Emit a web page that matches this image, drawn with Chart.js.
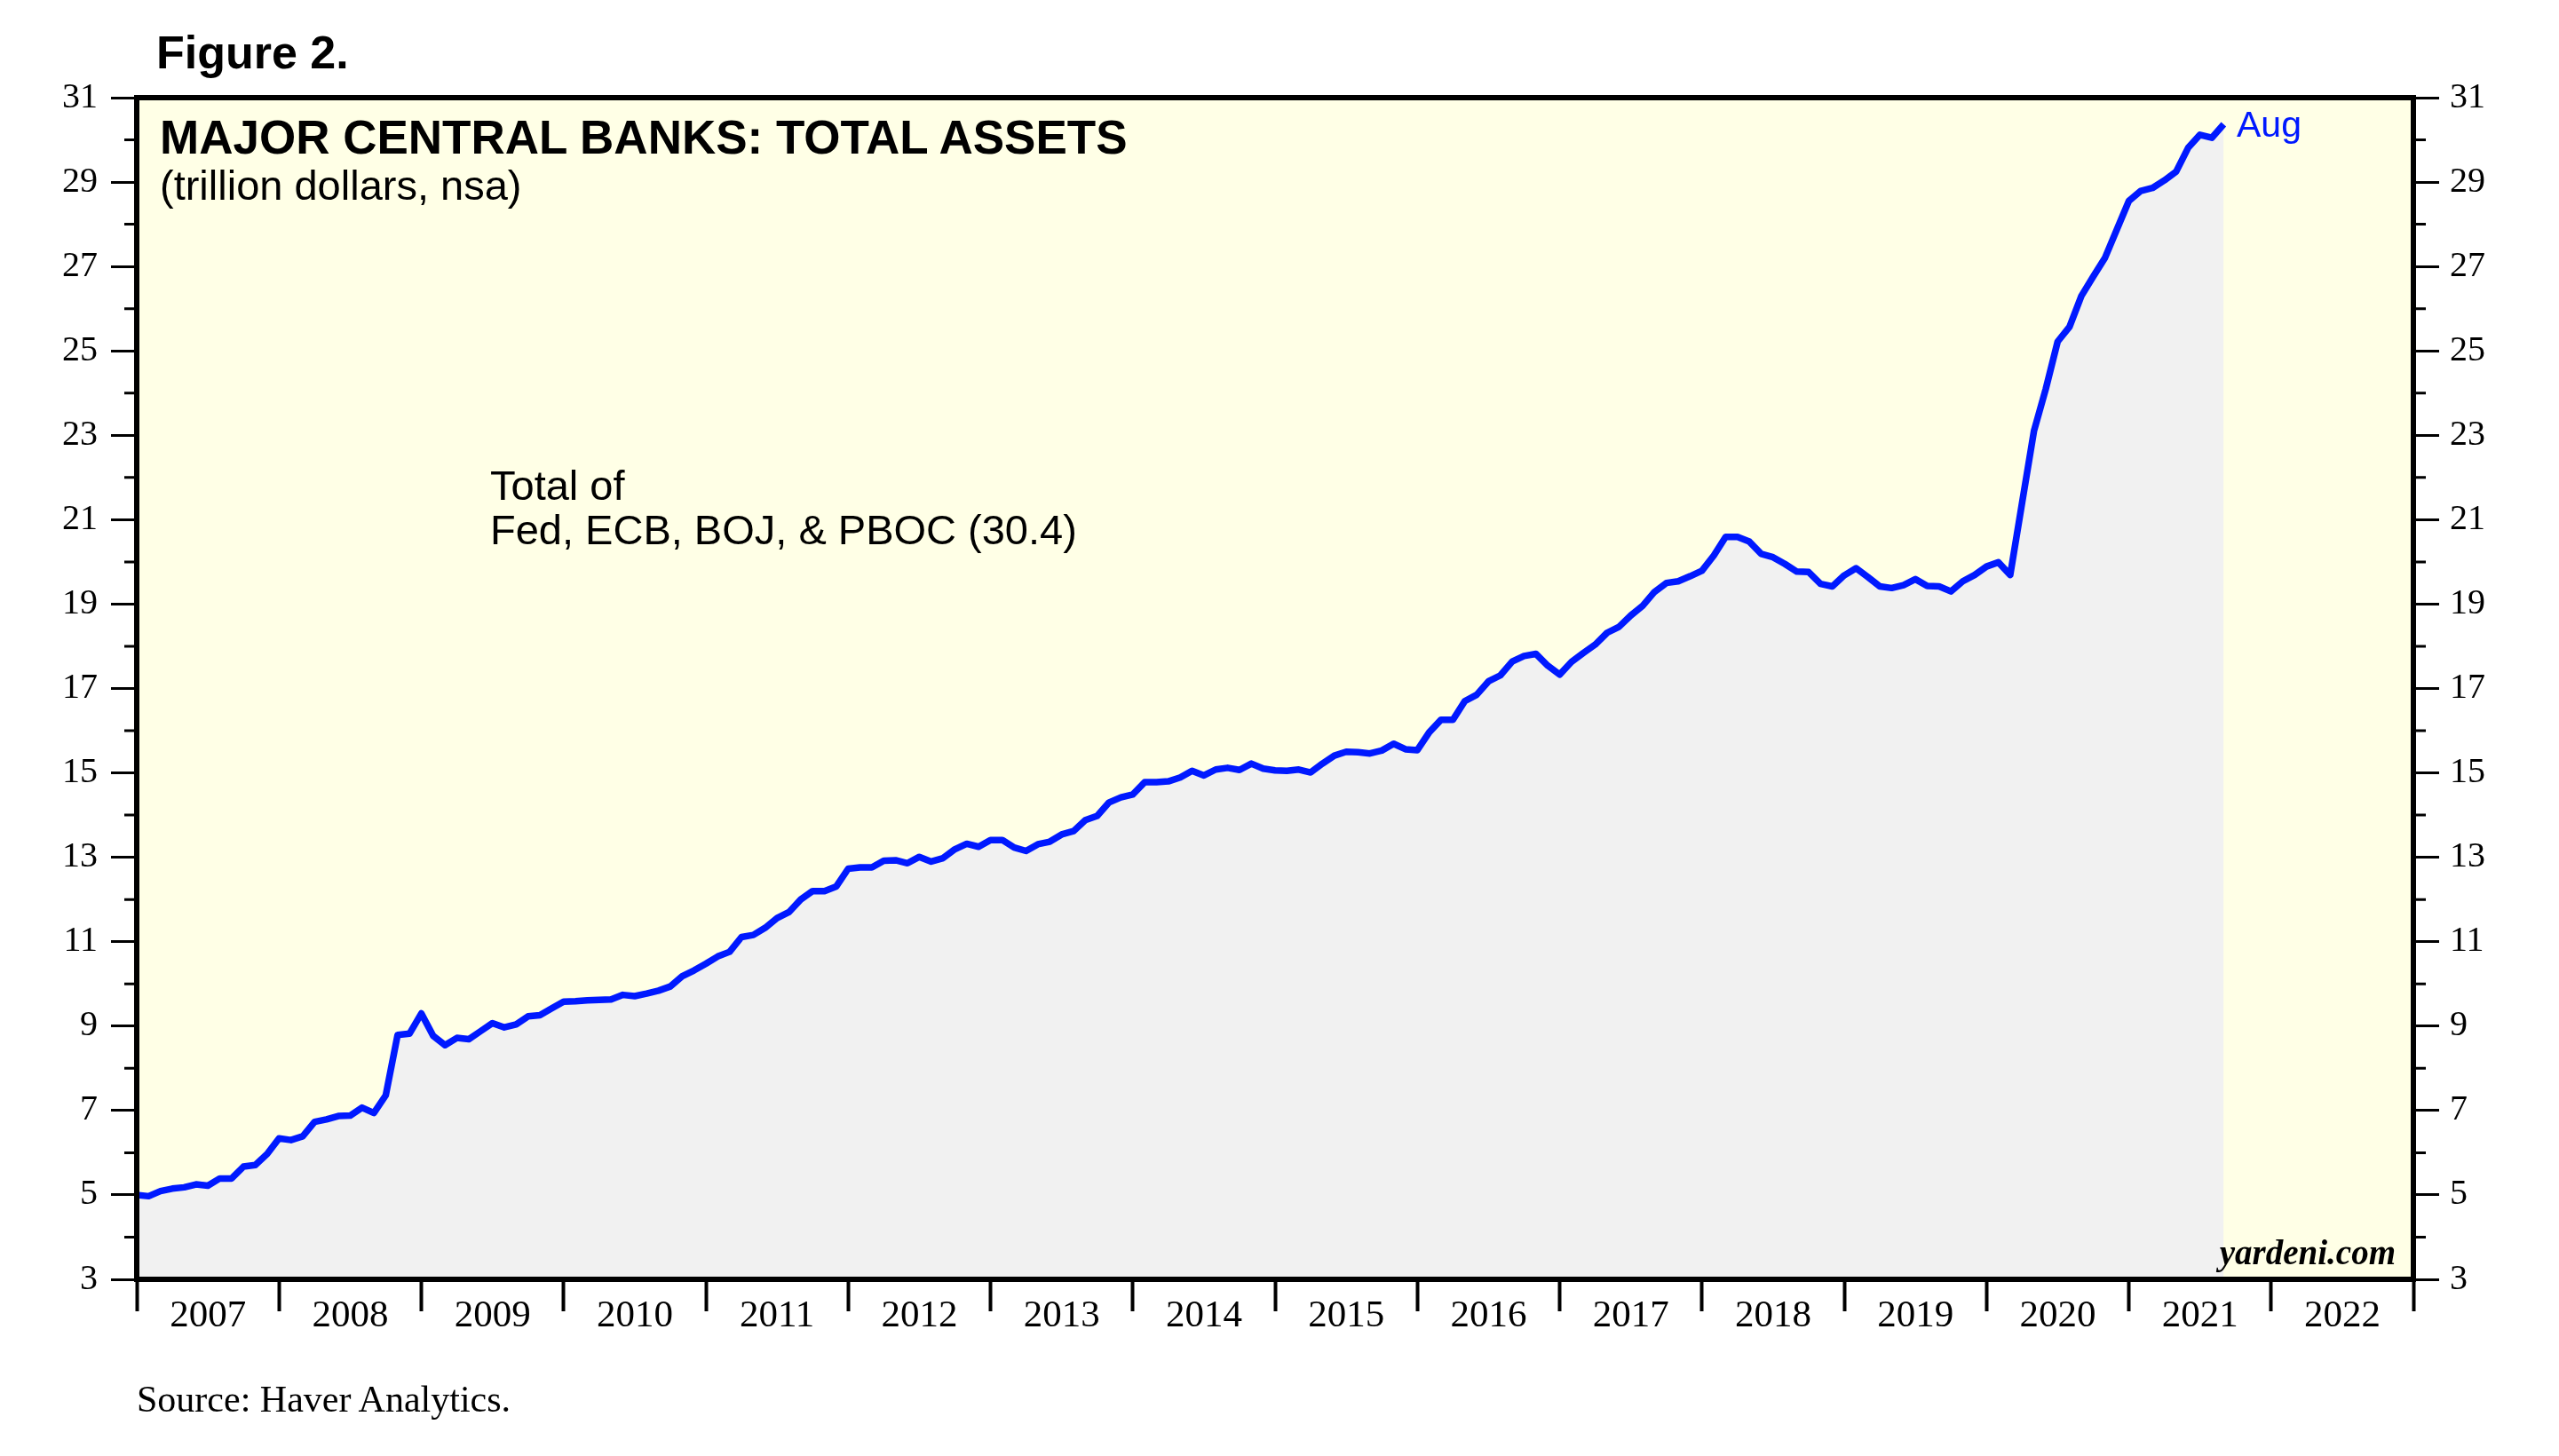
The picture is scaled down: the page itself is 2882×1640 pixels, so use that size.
<!DOCTYPE html>
<html>
<head>
<meta charset="utf-8">
<title>Major Central Banks: Total Assets</title>
<script src="https://cdn.jsdelivr.net/npm/chart.js@4.4.1/dist/chart.umd.min.js"></script>
<style>
  html, body { margin: 0; padding: 0; background: #fff; }
  #wrap { position: relative; width: 2882px; height: 1640px; overflow: hidden; }
  #chart { position: absolute; left: 0; top: 0; }
  .txt { position: absolute; white-space: nowrap; line-height: 1; color: #000; }
  .sans { font-family: "Liberation Sans", Arial, Helvetica, sans-serif; }
  .serif { font-family: "Liberation Serif", "Times New Roman", serif; }
</style>
</head>
<body>
<div id="wrap">
  <canvas id="chart" width="2882" height="1640"></canvas>
  <div class="txt sans" style="left:176px; top:33px; font-size:52px; font-weight:bold;">Figure 2.</div>
  <div class="txt sans" style="left:180px; top:128px; font-size:53px; font-weight:bold;">MAJOR CENTRAL BANKS: TOTAL ASSETS</div>
  <div class="txt sans" style="left:180px; top:185px; font-size:47px;">(trillion dollars, nsa)</div>
  <div class="txt sans" style="left:552px; top:523px; font-size:47px;">Total of</div>
  <div class="txt sans" style="left:552px; top:573px; font-size:47px;">Fed, ECB, BOJ, &amp; PBOC (30.4)</div>
  <div class="txt sans" style="left:2519px; top:120px; font-size:41px; color:#0019ff;">Aug</div>
  <div class="txt serif" style="right:184px; top:1391px; font-size:39px; font-weight:bold; font-style:italic;">yardeni.com</div>
  <div class="txt serif" style="left:154px; top:1555px; font-size:42px;">Source: Haver Analytics.</div>
</div>
<script>
// year labels on the x axis (centred in each year)
const yearLabels = ['2007', '2008', '2009', '2010', '2011', '2012', '2013', '2014',
                    '2015', '2016', '2017', '2018', '2019', '2020', '2021', '2022'];

// y axis range, labelled every 2
const yMin = 3;
const yMax = 31;

// monthly series, first value is Dec 2006 (plotted at the start of 2007)
const firstMonth = { year: 2006, month: 12 };

// Fed + ECB + BOJ + PBOC total assets, trillion dollars
const totalAssets = [
  5.00,
  4.97, 5.09, 5.15, 5.18, 5.25, 5.22, 5.39, 5.39, 5.67, 5.71, 5.97, 6.34,         // 2007
  6.30, 6.39, 6.73, 6.79, 6.87, 6.88, 7.07, 6.94, 7.36, 8.79, 8.82, 9.30,         // 2008
  8.77, 8.55, 8.72, 8.69, 8.88, 9.07, 8.97, 9.04, 9.23, 9.26, 9.42, 9.58,         // 2009
  9.59, 9.61, 9.62, 9.63, 9.74, 9.71, 9.77, 9.84, 9.94, 10.18, 10.32, 10.48,      // 2010
  10.65, 10.76, 11.11, 11.16, 11.33, 11.56, 11.70, 12.00, 12.20, 12.20, 12.31, 12.73, // 2011
  12.76, 12.76, 12.92, 12.93, 12.86, 13.01, 12.90, 12.98, 13.19, 13.32, 13.25, 13.41, // 2012
  13.41, 13.23, 13.15, 13.31, 13.37, 13.54, 13.62, 13.88, 13.98, 14.30, 14.42, 14.49, // 2013
  14.78, 14.78, 14.80, 14.89, 15.05, 14.94, 15.08, 15.12, 15.07, 15.22, 15.10, 15.06, // 2014
  15.05, 15.08, 15.01, 15.22, 15.41, 15.50, 15.49, 15.46, 15.53, 15.69, 15.56, 15.54, // 2015
  15.96, 16.26, 16.26, 16.70, 16.85, 17.17, 17.31, 17.64, 17.77, 17.82, 17.54, 17.33, // 2016
  17.63, 17.84, 18.04, 18.32, 18.46, 18.73, 18.96, 19.29, 19.50, 19.54, 19.66, 19.79, // 2017
  20.15, 20.59, 20.59, 20.48, 20.19, 20.11, 19.95, 19.77, 19.76, 19.48, 19.42, 19.68, // 2018
  19.85, 19.64, 19.42, 19.38, 19.45, 19.59, 19.43, 19.42, 19.30, 19.54, 19.69, 19.89, // 2019
  19.99, 19.69, 21.40, 23.10, 24.10, 25.22, 25.57, 26.30, 26.76, 27.21, 27.88, 28.55, // 2020
  28.79, 28.86, 29.04, 29.25, 29.81, 30.12, 30.05, 30.37                              // 2021
];

const firstYear = Number(yearLabels[0]);
const lastYear = Number(yearLabels[yearLabels.length - 1]) + 1;

const points = totalAssets.map((v, i) => ({
  x: firstMonth.year + (firstMonth.month + i) / 12,
  y: v
}));

const serifFont = '"Liberation Serif", "Times New Roman", serif';

// yellow plot background, black frame and the short minor ticks
const plotFrame = {
  id: 'plotFrame',
  beforeDraw(chart) {
    const { ctx, chartArea: a } = chart;
    ctx.save();
    ctx.fillStyle = '#ffffe6';
    ctx.fillRect(a.left, a.top, a.right - a.left, a.bottom - a.top);
    ctx.restore();
  },
  afterDraw(chart) {
    const { ctx, chartArea: a } = chart;
    const yl = chart.scales.y;
    ctx.save();
    ctx.strokeStyle = '#000';
    ctx.lineWidth = 3;
    ctx.beginPath();
    for (let v = yMin + 1; v < yMax; v += 2) {
      const py = yl.getPixelForValue(v);
      ctx.moveTo(a.left - 14, py);
      ctx.lineTo(a.left, py);
      ctx.moveTo(a.right, py);
      ctx.lineTo(a.right + 14, py);
    }
    ctx.stroke();
    ctx.lineWidth = 6;
    ctx.strokeRect(a.left, a.top, a.right - a.left, a.bottom - a.top);
    ctx.restore();
  }
};

function yAxis(position, width, padding) {
  return {
    type: 'linear',
    position: position,
    min: yMin,
    max: yMax,
    afterFit(scale) { scale.width = width; },
    border: { display: false },
    grid: {
      drawOnChartArea: false,
      tickLength: 29,
      tickWidth: 3,
      tickColor: (c) => (c.tick && (c.tick.value - yMin) % 2 === 0) ? '#000' : 'rgba(0,0,0,0)'
    },
    ticks: {
      stepSize: 1,
      autoSkip: false,
      padding: padding,
      color: '#000',
      font: { family: serifFont, size: 40 },
      callback: (v) => ((v - yMin) % 2 === 0 ? String(v) : '')
    }
  };
}

new Chart(document.getElementById('chart'), {
  type: 'line',
  data: {
    datasets: [{
      label: 'Total of Fed, ECB, BOJ, & PBOC',
      data: points,
      borderColor: '#0019ff',
      backgroundColor: '#f1f1f1',
      borderWidth: 7.5,
      borderJoinStyle: 'round',
      pointRadius: 0,
      tension: 0,
      fill: 'start'
    }]
  },
  options: {
    responsive: false,
    animation: false,
    devicePixelRatio: 1,
    layout: { padding: { top: 110, left: 0, right: 0, bottom: 0 } },
    plugins: {
      legend: { display: false },
      tooltip: { enabled: false }
    },
    scales: {
      x: {
        type: 'linear',
        position: 'bottom',
        min: firstYear,
        max: lastYear,
        afterFit(scale) { scale.height = 199; },
        afterBuildTicks(scale) {
          const t = [];
          for (let y = firstYear; y <= lastYear; y++) {
            t.push({ value: y });
            if (y < lastYear) t.push({ value: y + 0.5 });
          }
          scale.ticks = t;
        },
        border: { display: false },
        grid: {
          drawOnChartArea: false,
          tickLength: 36,
          tickWidth: 4,
          tickColor: (c) => (c.tick && Number.isInteger(c.tick.value)) ? '#000' : 'rgba(0,0,0,0)'
        },
        ticks: {
          autoSkip: false,
          maxRotation: 0,
          minRotation: 0,
          padding: -20,
          color: '#000',
          font: { family: serifFont, size: 43 },
          callback: (v) => (Number.isInteger(v) ? '' : yearLabels[Math.floor(v) - firstYear])
        }
      },
      y: yAxis('left', 154, 15),
      y2: yAxis('right', 164, 12)
    }
  },
  plugins: [plotFrame]
});
</script>
</body>
</html>
